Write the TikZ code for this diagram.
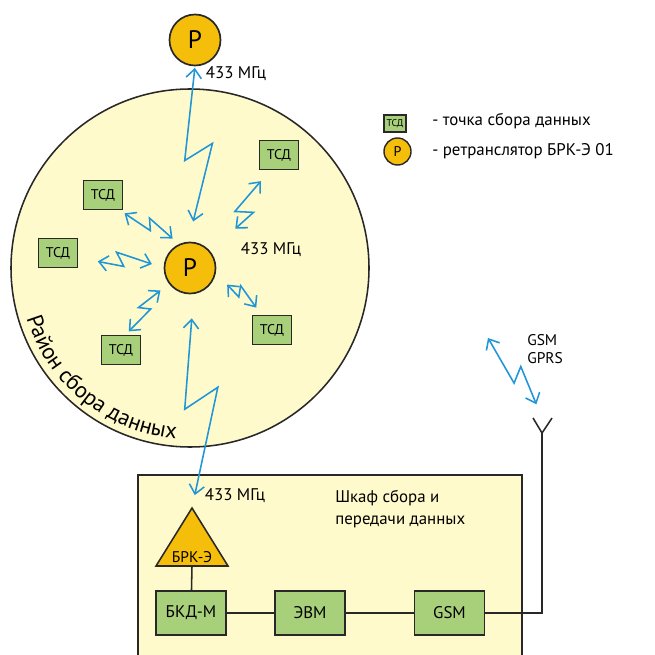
\documentclass[tikz,border=0pt]{standalone}
\usepackage{fontspec}
\setmainfont{PT Sans}
\usetikzlibrary{arrows.meta,calc,decorations.text}
\definecolor{zonefill}{RGB}{255,250,204}
\definecolor{tsdgreen}{RGB}{168,208,122}
\definecolor{relayorange}{RGB}{245,190,10}
\definecolor{radioblue}{RGB}{30,150,215}
\definecolor{inkgray}{RGB}{40,40,40}

\begin{document}
\begin{tikzpicture}[x=0.025cm, y=0.025cm,
  relay/.style={circle, draw=inkgray, line width=1.2pt, fill=relayorange,
               minimum size=1.275cm, inner sep=0pt, font=\fontsize{18}{20}\selectfont},
  tsd/.style={draw=inkgray, line width=1pt, fill=tsdgreen, minimum width=0.975cm,
               minimum height=0.725cm, inner sep=0pt, font=\fontsize{10}{12}\selectfont},
  block/.style={draw=inkgray, line width=1pt, fill=tsdgreen, minimum width=1.75cm,
               minimum height=1.1cm, inner sep=0pt, font=\fontsize{12}{14}\selectfont},
  lbl/.style={font=\fontsize{12}{14}\selectfont, inner sep=0pt},
  wire/.style={draw=inkgray, line width=1.1pt},
  radio/.style={draw=radioblue, line width=1.1pt,
               {Straight Barb[length=2.2mm,width=3.8mm]}-{Straight Barb[length=2.2mm,width=3.8mm]},
               to path={-- ($(\tikztostart)!0.54!-4:(\tikztotarget)$)
                        -- ($(\tikztostart)!0.45!15:(\tikztotarget)$) -- (\tikztotarget)}}
]
\useasboundingbox (0,0) rectangle (655,-655);
\clip (0,0) rectangle (655,-655);
\fill[white] (0,0) rectangle (655,-655);

\draw[inkgray, line width=1.1pt, fill=zonefill] (190,-268) circle[radius=179];
\path[decorate, decoration={text along path, text align=left,
      text={|\fontsize{16}{18}\selectfont|Район сбора данных}}]
  (190,-268) ++(197:171) arc[start angle=197, end angle=275, radius=171];
\draw[inkgray, line width=1.1pt, fill=zonefill] (138,-475) rectangle (522,-680);

\node[relay] (ptop) at (195,-40) {Р};
\node[relay] (pmid) at (190,-268) {Р};
\node[tsd] (tsd1) at (279,-155) {ТСД};
\node[tsd] (tsd2) at (103,-195) {ТСД};
\node[tsd] (tsd3) at (58,-253) {ТСД};
\node[tsd] (tsd4) at (121,-350) {ТСД};
\node[tsd] (tsd5) at (272,-330) {ТСД};

\node[lbl] (freqtop) at (236,-74) {433 МГц};
\node[lbl] (freqmid) at (271,-250) {433 МГц};
\node[lbl] (freqcab) at (235,-496) {433 МГц};

\node[tsd, minimum width=0.55cm, minimum height=0.425cm, font=\fontsize{7}{8}\selectfont]
  (keytsd) at (395,-123.5) {ТСД};
\node[relay, minimum size=0.675cm, line width=1pt, font=\fontsize{10}{12}\selectfont]
  (keyrelay) at (397.5,-151.5) {Р};
\node[lbl, anchor=west] (keytsdtxt) at (432,-121) {- точка сбора данных};
\node[lbl, anchor=west] (keyrelaytxt) at (432,-151) {- ретранслятор БРК-Э 01};

\node[lbl, font=\fontsize{12}{15.6}\selectfont, align=left, anchor=north west]
  (cabtxt) at (335,-490) {Шкаф сбора и\\передачи данных};
\node[lbl, font=\fontsize{11}{12.8}\selectfont, align=left, anchor=west]
  (gsmtxt) at (527,-349) {GSM\\GPRS};

\coordinate (brktip) at (192,-508);
\coordinate (brkbase) at (192,-566);
\draw[inkgray, line width=1.1pt, fill=relayorange] (brktip) -- (228,-566) -- (156,-566) -- cycle;
\node[inner sep=0pt, font=\fontsize{11}{13}\selectfont] (brk) at (192,-557) {БРК-Э};

\node[block] (bkd) at (191,-613) {БКД-М};
\node[block] (evm) at (310,-613) {ЭВМ};
\node[block] (gsm) at (449.5,-613) {GSM};

\coordinate (antfoot) at (542,-433);
\coordinate (anttop) at (542,-418);
\coordinate (antl) at (533,-418);
\coordinate (antr) at (552,-418);
\coordinate (sky) at (488,-338);

\draw[wire] (brkbase) -- (bkd);
\draw[wire] (bkd) -- (evm);
\draw[wire] (evm) -- (gsm);
\draw[wire] (gsm.east) -| (antfoot);
\draw[wire] (antl) -- (antfoot) -- (antr);

\draw[radio, shorten <=0.04cm, shorten >=0.52cm] (ptop.-90) to (pmid.94);
\draw[radio, shorten <=0.14cm, shorten >=0.21cm] (tsd2.-42) to (pmid.115);
\draw[radio, shorten <=0.5cm, shorten >=0.31cm] (tsd3.-13) to (pmid.180);
\draw[radio, shorten <=0.12cm, shorten >=0.27cm] (tsd4.74) to (pmid.217);
\draw[radio, shorten <=0.36cm, shorten >=0.84cm] (tsd1.240) to (pmid.40);
\draw[radio, shorten <=0.41cm, shorten >=0.22cm] (pmid.-10) to (tsd5.125);
\draw[radio, shorten <=0.61cm, shorten >=0.33cm] (pmid.-82) to (brktip);
\draw[radio, shorten >=0.37cm] (sky) to (anttop);
\end{tikzpicture}
\end{document}
